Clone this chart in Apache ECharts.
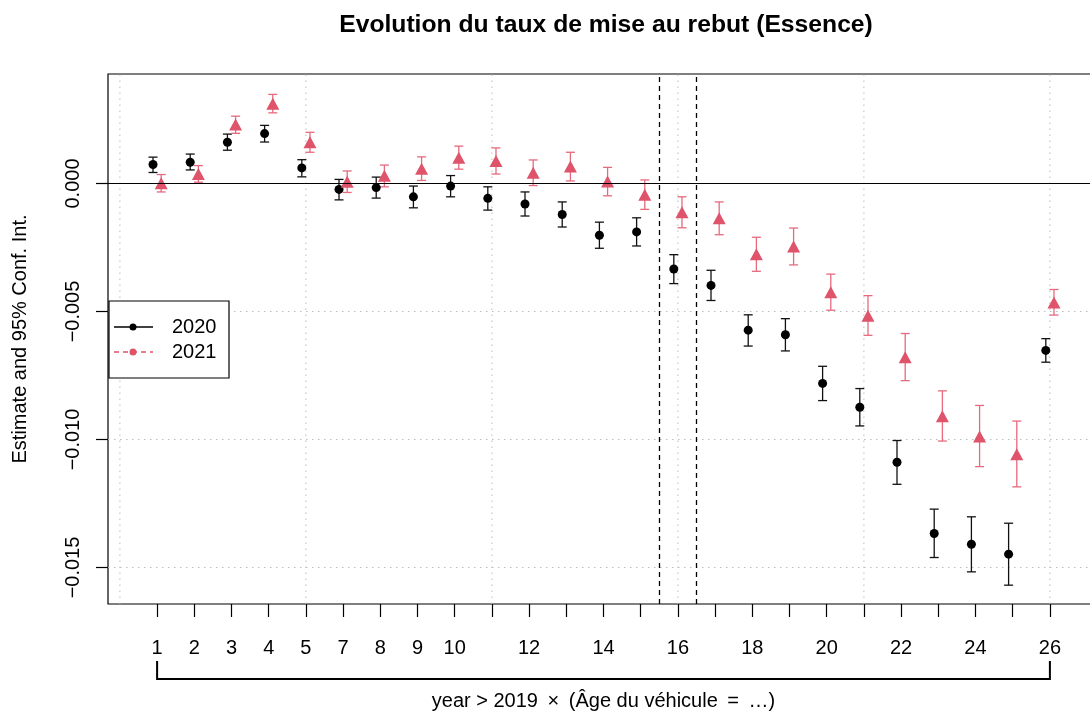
<!DOCTYPE html>
<html>
<head>
<meta charset="utf-8">
<script src="https://cdn.jsdelivr.net/npm/echarts@6/dist/echarts.min.js"></script>
<style>
  html, body { margin: 0; padding: 0; background: #fff; }
  #chart { width: 1090px; height: 714px; }
</style>
</head>
<body>
<div id="chart"></div>
<script type="text/javascript">

// vehicle age categories (6 is the reference, left out)
var ages = [1, 2, 3, 4, 5, 7, 8, 9, 10, 11, 12, 13, 14, 15, 16, 17, 18, 19, 20, 21, 22, 23, 24, 25, 26];
var shownLabels = [1, 2, 3, 4, 5, 7, 8, 9, 10, 12, 14, 16, 18, 20, 22, 24, 26];

// 2020
var est2020 = [0.00074, 0.00083, 0.00161, 0.00195, 0.00061, -0.00023, -0.00016, -0.00052, -0.0001, -0.00058, -0.0008, -0.00121, -0.00202, -0.00189, -0.00334, -0.00398, -0.00573, -0.00591, -0.00781, -0.00874, -0.01089, -0.01367, -0.01409, -0.01448, -0.00652];
var lo2020 = [0.00043, 0.00053, 0.0013, 0.00162, 0.00026, -0.00064, -0.00057, -0.00095, -0.00052, -0.00104, -0.00127, -0.0017, -0.00253, -0.00244, -0.00391, -0.00457, -0.00635, -0.00654, -0.00848, -0.00947, -0.01175, -0.01461, -0.01517, -0.01569, -0.00698];
var hi2020 = [0.00103, 0.00115, 0.00193, 0.00227, 0.00093, 0.00016, 0.00025, -0.0001, 0.00031, -0.00013, -0.00033, -0.00072, -0.00151, -0.00134, -0.00278, -0.00339, -0.00513, -0.00528, -0.00714, -0.00801, -0.01004, -0.01272, -0.01302, -0.01327, -0.00606];

// 2021
var est2021 = [0.00001, 0.00037, 0.0023, 0.00312, 0.00161, 0.00007, 0.0003, 0.00058, 0.00101, 0.00088, 0.00042, 0.00066, 0.00008, -0.00044, -0.00112, -0.00136, -0.00276, -0.00246, -0.00425, -0.00517, -0.00679, -0.00909, -0.00988, -0.01058, -0.00465];
var lo2021 = [-0.00033, 0.00005, 0.00196, 0.00276, 0.00122, -0.00035, -0.00013, 0.00012, 0.00056, 0.00037, -0.00008, 0.0001, -0.00048, -0.00101, -0.00173, -0.002, -0.00343, -0.00318, -0.00495, -0.00593, -0.0077, -0.01006, -0.01106, -0.01185, -0.00514];
var hi2021 = [0.00035, 0.0007, 0.00263, 0.00348, 0.002, 0.00049, 0.00072, 0.00104, 0.00146, 0.00139, 0.00092, 0.00122, 0.00063, 0.00014, -0.00052, -0.00072, -0.0021, -0.00174, -0.00354, -0.00438, -0.00586, -0.0081, -0.00867, -0.00928, -0.00414];

var yTicks = [-0.015, -0.01, -0.005, 0];
var yGrid = [-0.015, -0.01, -0.005];
var xGrid = [-1, 4, 9, 14, 19, 24];
var refLines = [13.5, 14.5];

var BLACK = '#000000';
var RED = '#DF536B';
var FONT = "'Liberation Sans', Arial, Helvetica, sans-serif";
var shift = 0.11;
var X_MIN = -1.32, X_MAX = 25.32;

var idx = ages.map(function (a, i) { return i; });

function points(est, off) {
    return est.map(function (v, i) { return [i + off, v]; });
}
function bars(lo, hi, off) {
    return lo.map(function (v, i) { return [i + off, v, hi[i]]; });
}

function errorBar(color) {
    return function (params, api) {
        var top = api.coord([api.value(0), api.value(2)]);
        var bot = api.coord([api.value(0), api.value(1)]);
        var w = 4.5;
        var style = { stroke: color, lineWidth: 1.3 };
        return {
            type: 'group',
            children: [
                { type: 'line', shape: { x1: top[0], y1: top[1], x2: bot[0], y2: bot[1] }, style: style },
                { type: 'line', shape: { x1: top[0] - w, y1: top[1], x2: top[0] + w, y2: top[1] }, style: style },
                { type: 'line', shape: { x1: bot[0] - w, y1: bot[1], x2: bot[0] + w, y2: bot[1] }, style: style }
            ]
        };
    };
}

// dotted background grid, drawn through the axes' scales
function gridLines(params, api) {
    var v = api.value(0), kind = api.value(1);
    var p1, p2;
    if (kind === 0) {
        p1 = api.coord([v, api.value(2)]);
        p2 = api.coord([v, api.value(3)]);
    } else {
        p1 = api.coord([X_MIN, v]);
        p2 = api.coord([X_MAX, v]);
        p1[1] = p2[1] = Math.round(p1[1] - 0.5) + 0.5;
    }
    return {
        type: 'line',
        shape: { x1: p1[0], y1: p1[1], x2: p2[0], y2: p2[1] },
        style: { stroke: '#bdbdbd', lineWidth: 1, lineDash: [1.5, 4.5] }
    };
}

var chart = echarts.init(document.getElementById('chart'), null, { renderer: 'canvas' });

var Y_MIN = -0.01642578, Y_MAX = 0.00427734;

var gridData = xGrid.map(function (x) { return [x, 0, Y_MIN, Y_MAX]; })
    .concat(yGrid.map(function (y) { return [y, 1, 0, 0]; }));

var option = {
    animation: false,
    textStyle: { fontFamily: FONT },
    title: {
        text: 'Evolution du taux de mise au rebut (Essence)',
        left: 601,
        textAlign: 'center',
        top: 8,
        textStyle: { fontFamily: FONT, fontSize: 24.7, fontWeight: 'bold', color: '#000' }
    },
    grid: {
        left: 108, top: 74, width: 991, height: 530,
        outerBoundsMode: 'none',
        containLabel: false,
        show: true, borderColor: '#000', borderWidth: 1.2, backgroundColor: 'transparent'
    },
    xAxis: {
        type: 'value',
        min: X_MIN, max: X_MAX,
        axisLine: { show: false, onZero: false },
        splitLine: { show: false },
        axisTick: { show: true, length: 13, inside: false, customValues: idx, lineStyle: { color: '#000', width: 1.2 } },
        axisLabel: {
            customValues: idx,
            margin: 34,
            fontSize: 20, color: '#000', fontFamily: FONT,
            formatter: function (v) {
                var a = ages[Math.round(v)];
                return shownLabels.indexOf(a) >= 0 ? String(a) : '';
            }
        },
        name: 'year > 2019 \u2009\u00d7\u2009 (\u00c2ge du v\u00e9hicule \u2009=\u2009 \u2026)',
        nameLocation: 'middle',
        nameGap: 87,
        nameTextStyle: { fontSize: 20, color: '#000', fontFamily: FONT }
    },
    yAxis: {
        type: 'value',
        min: Y_MIN, max: Y_MAX,
        axisLine: { show: false, onZero: false },
        splitLine: { show: false },
        axisTick: { show: true, length: 12, inside: false, customValues: yTicks, lineStyle: { color: '#000', width: 1.2 } },
        axisLabel: {
            customValues: yTicks,
            rotate: 90,
            margin: 25,
            fontSize: 20, color: '#000', fontFamily: FONT,
            formatter: function (v) {
                return (v < -1e-9 ? '\u2212' : '') + Math.abs(v).toFixed(3);
            }
        },
        name: 'Estimate and 95% Conf. Int.',
        nameLocation: 'middle',
        nameRotate: 90,
        nameGap: 78,
        nameTextStyle: { fontSize: 20, color: '#000', fontFamily: FONT }
    },
    series: [
        {
            type: 'custom',
            silent: true,
            renderItem: gridLines,
            data: gridData,
            clip: true,
            z: 1
        },
        {
            // zero line and reference lines
            type: 'scatter',
            data: [],
            silent: true,
            markLine: {
                silent: true,
                symbol: 'none',
                label: { show: false },
                animation: false,
                data: [
                    { yAxis: 0, lineStyle: { color: '#000', type: 'solid', width: 1.2 } }
                ].concat(refLines.map(function (x) {
                    return { xAxis: x, lineStyle: { color: '#000', type: [5, 4], width: 1.3 } };
                }))
            }
        },
        {
            name: '2020 ci',
            type: 'custom',
            renderItem: errorBar('#111'),
            data: bars(lo2020, hi2020, -shift),
            z: 3
        },
        {
            name: '2021 ci',
            type: 'custom',
            renderItem: errorBar('#E56A7E'),
            data: bars(lo2021, hi2021, shift),
            z: 3
        },
        {
            name: '2020',
            type: 'scatter',
            symbol: 'circle',
            symbolSize: 9,
            itemStyle: { color: BLACK, opacity: 1 },
            data: points(est2020, -shift),
            z: 4
        },
        {
            name: '2021',
            type: 'scatter',
            symbol: 'triangle',
            symbolSize: [13, 12],
            itemStyle: { color: RED, opacity: 1 },
            data: points(est2021, shift),
            z: 4
        }
    ]
};

chart.setOption(option);

// bracket under the axis labels and the legend box
var xa = chart.convertToPixel({ xAxisIndex: 0 }, 0);
var xb = chart.convertToPixel({ xAxisIndex: 0 }, ages.length - 1);

chart.setOption({
    graphic: [
        { type: 'polyline', shape: { points: [[xa, 661], [xa, 679], [xb, 679], [xb, 661]] }, style: { stroke: '#000', lineWidth: 2, fill: null } },
        { type: 'rect', shape: { x: 109, y: 301, width: 120, height: 77 }, style: { stroke: '#000', lineWidth: 1.2, fill: '#fff' }, z: 10 },
        { type: 'line', shape: { x1: 114, y1: 327, x2: 153, y2: 327 }, style: { stroke: BLACK, lineWidth: 1.3 }, z: 11 },
        { type: 'circle', shape: { cx: 133, cy: 327, r: 3.5 }, style: { fill: BLACK }, z: 11 },
        { type: 'text', style: { x: 172, y: 327, text: '2020', font: '20px ' + FONT, fill: '#000', verticalAlign: 'middle' }, z: 11 },
        { type: 'line', shape: { x1: 114, y1: 352, x2: 153, y2: 352 }, style: { stroke: RED, lineWidth: 1.3, lineDash: [5, 4] }, z: 11 },
        { type: 'circle', shape: { cx: 133, cy: 352, r: 3.5 }, style: { fill: RED }, z: 11 },
        { type: 'text', style: { x: 172, y: 352, text: '2021', font: '20px ' + FONT, fill: '#000', verticalAlign: 'middle' }, z: 11 }
    ]
});

</script>
</body>
</html>
